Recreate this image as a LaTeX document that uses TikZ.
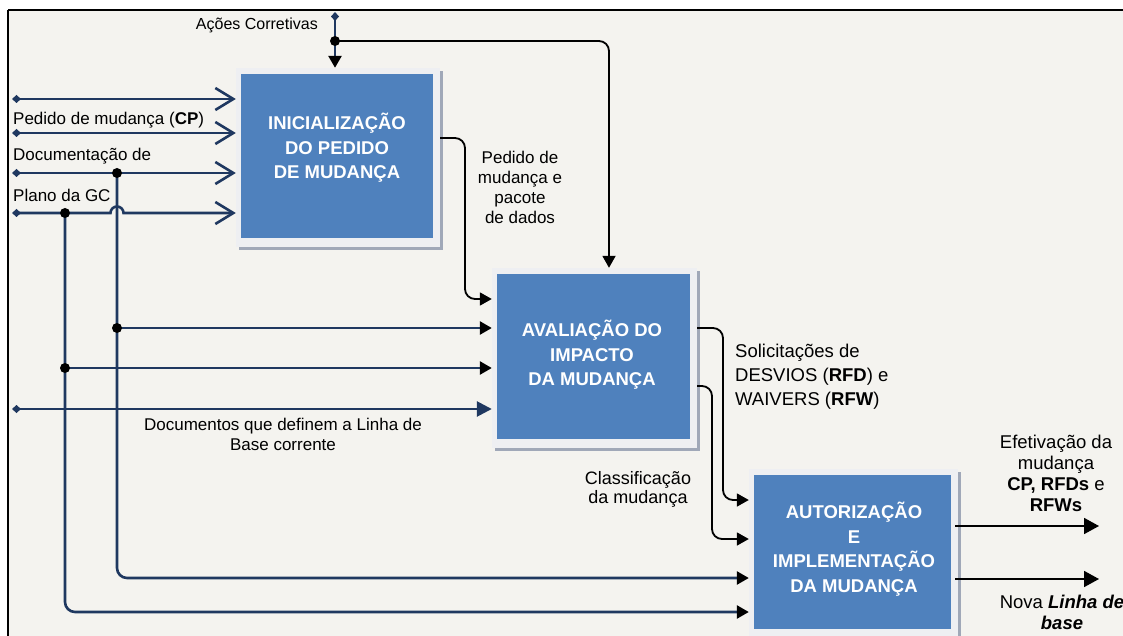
\documentclass[tikz,border=0pt]{standalone}
\usepackage{fontspec}
\setmainfont{Liberation Sans}
\usetikzlibrary{arrows.meta,shadows}

\definecolor{paper}{RGB}{244,243,239}
\definecolor{navy}{RGB}{31,56,96}
\definecolor{boxblue}{RGB}{79,129,189}
\definecolor{glow}{RGB}{238,239,242}
\definecolor{shade}{RGB}{160,168,184}

\tikzset{
  procbox/.style={rectangle, inner sep=0pt, fill=glow,
    drop shadow={shadow xshift=3pt, shadow yshift=-3pt, fill=shade, opacity=1},
    path picture={\fill[boxblue]
      ([xshift=5pt,yshift=-6pt]path picture bounding box.north west) rectangle
      ([xshift=-7pt,yshift=9pt]path picture bounding box.south east);}},
  boxtext/.style={text=white, font=\fontsize{18.5}{24.5}\selectfont\bfseries,
    align=center, inner sep=0pt},
  lbl/.style={font=\fontsize{17}{20}\selectfont, inner sep=0pt},
  biglbl/.style={font=\fontsize{18.5}{21}\selectfont, inner sep=0pt},
  navyline/.style={draw=navy, line width=2.6pt},
  blackline/.style={draw=black, line width=1.8pt},
  openhead/.tip={Straight Barb[length=18pt,width=22pt]},
  solidhead/.tip={Triangle[length=12pt,width=13pt,color=black]},
  navyhead/.tip={Triangle[length=15pt,width=15pt]},
  outhead/.tip={Triangle[length=15pt,width=16pt]},
  starthead/.tip={Diamond[length=9pt,width=8pt]},
  junction/.style={fill=black},
}

\begin{document}
\begin{tikzpicture}[x=1pt,y=-1pt]
\useasboundingbox (0,0) rectangle (1123,636);
\clip (0,0) rectangle (1123,636);

% sheet and frame
\fill[white] (0,0) rectangle (1123,636);
\fill[paper] (8,10) rectangle (1130,650);
\draw[line width=2.5pt] (8,10) -- (1130,10);
\draw[line width=1.5pt] (8,10) -- (8,650);

% process boxes
\node[procbox, minimum width=204pt, minimum height=179pt] (b1) at (338,157.5) {};
\node[procbox, minimum width=205pt, minimum height=180pt] (b2) at (594.5,358) {};
\node[procbox, minimum width=209pt, minimum height=169pt] (b3) at (853.5,553.5) {};

\node[boxtext] (t1) at (337,148) {INICIALIZAÇÃO\\DO PEDIDO\\DE MUDANÇA};
\node[boxtext] (t2) at (592,355) {AVALIAÇÃO DO\\IMPACTO\\DA MUDANÇA};
\node[boxtext] (t3) at (854,549) {AUTORIZAÇÃO\\E\\IMPLEMENTAÇÃO\\DA MUDANÇA};

% junction points and free ends
\coordinate (acd) at (335,12);
\coordinate (acj) at (335,41);
\coordinate (in1) at (12,99);
\coordinate (in2) at (12,133);
\coordinate (in3) at (12,173);
\coordinate (in4) at (12,213);
\coordinate (in5) at (12,409);
\coordinate (d3) at (117,173);
\coordinate (d4) at (65,213);
\coordinate (j3) at (117,328);
\coordinate (j4) at (65,368);
\coordinate (o1) at (1099,526);
\coordinate (o2) at (1099,579);

% corrective actions
\node[font=\fontsize{16}{19}\selectfont, inner sep=0pt, anchor=base east] (lac) at (318,30) {Ações Corretivas};
\draw[navyline, {starthead}-] (acd) -- (acj);
\draw[navyline, -{solidhead}] (acj) -- (b1.north -| acj);
\draw[blackline, rounded corners=10pt, -{solidhead}] (acj) -| (b2.north -| 609,0);

% inputs of the first box
\draw[navyline, {starthead}-{openhead}] (in1) -- (b1.west |- in1);
\draw[navyline, {starthead}-{openhead}] (in2) -- (b1.west |- in2);
\draw[navyline, {starthead}-{openhead}] (in3) -- (b1.west |- in3);
\draw[navyline, rounded corners=10pt, -{solidhead}] (d3) |- (b3.west |- 0,578);
\draw[navyline, {starthead}-{openhead}] (in4) -- (110.5,213)
  arc[start angle=180, end angle=360, radius=6.5] -- (b1.west |- in4);
\draw[navyline, rounded corners=10pt, -{solidhead}] (d4) |- (b3.west |- 0,612);
\node[lbl, anchor=base west] (lcp) at (13,125) {Pedido de mudança (\textbf{CP})};
\node[lbl, anchor=base west] (ldoc) at (13,161) {Documentação de};
\node[lbl, anchor=base west] (lgc) at (13,202) {Plano da GC};

% inputs of the second box
\draw[navyline, -{solidhead}] (j3) -- (b2.west |- j3);
\draw[navyline, -{solidhead}] (j4) -- (b2.west |- j4);
\draw[navyline, {starthead}-{navyhead}] (in5) -- (b2.west |- in5);
\node[lbl, align=center, font=\fontsize{17}{20}\selectfont] (lbase) at (283,434)
  {Documentos que definem a Linha de\\Base corrente};

\foreach \p in {d3,d4,j3,j4,acj} \fill[junction] (\p) circle (5pt);

% first box to second box
\draw[blackline, rounded corners=10pt, -{solidhead}]
  (b1.east |- 0,138) -| (465,299) -- (b2.west |- 0,299);
\node[lbl, align=center] (lpd) at (520,187)
  {Pedido de\\mudança e\\pacote\\de dados};

% second box to third box
\draw[blackline, rounded corners=10pt, -{solidhead}]
  (b2.east |- 0,328) -| (723,500) -- (b3.west |- 0,500);
\draw[blackline, rounded corners=10pt, -{solidhead}]
  (b2.east |- 0,386) -| (712,539) -- (b3.west |- 0,539);
\node[biglbl, align=left, anchor=west, font=\fontsize{18.5}{24}\selectfont] (lsol) at (735,377)
  {Solicitações de\\DESVIOS (\textbf{RFD}) e\\WAIVERS (\textbf{RFW})};
\node[biglbl, align=center, font=\fontsize{18}{19}\selectfont] (lcls) at (638,489)
  {Classificação\\da mudança};

% outputs of the third box
\draw[blackline, -{outhead}] ([xshift=-3pt]b3.east |- o1) -- (o1);
\draw[blackline, -{outhead}] ([xshift=-3pt]b3.east |- o2) -- (o2);
\node[biglbl, align=center] (lefe) at (1056,473)
  {Efetivação da\\mudança\\\textbf{CP, RFDs} e\\\textbf{RFWs}};
\node[biglbl, align=center] (lnova) at (1062,612)
  {Nova \textbf{\textit{Linha de}}\\\textbf{\textit{base}}};
\end{tikzpicture}
\end{document}
